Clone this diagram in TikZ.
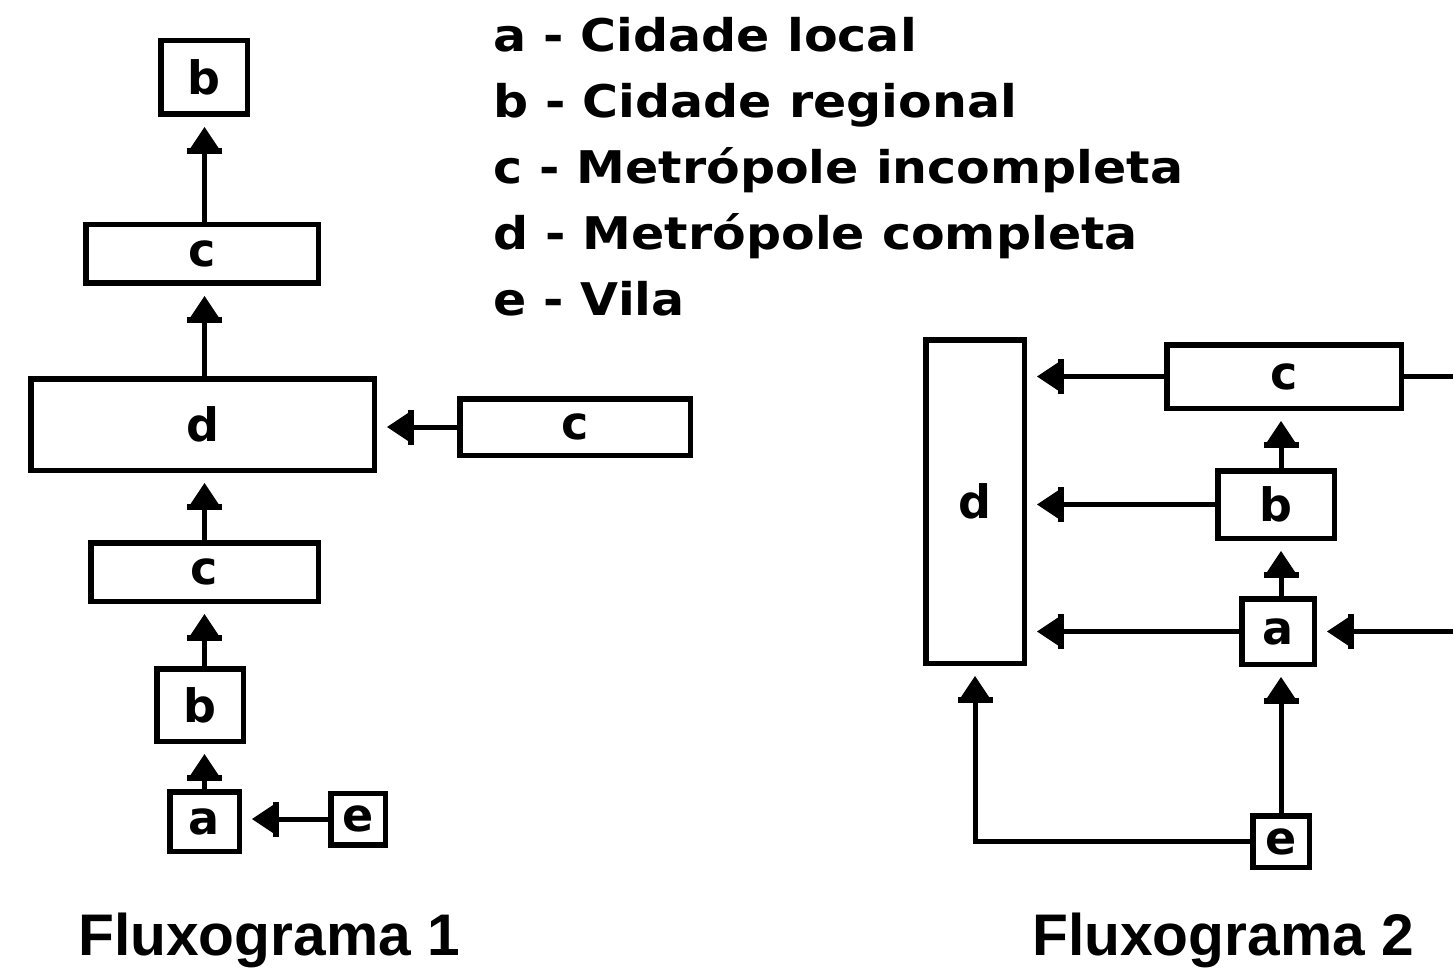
\documentclass[tikz,border=0pt]{standalone}
\usepackage{fontspec}
\setmainfont{DejaVu Sans}
\newfontfamily\titulo{Liberation Sans}
\usetikzlibrary{positioning,arrows.meta}

\tikzset{
  caixa/.style={draw, line width=5.5pt, fill=white, inner sep=0pt,
    font=\fontsize{46}{46}\selectfont\bfseries},
  linha/.style={line width=5pt},
  seta/.style={line width=5pt, shorten >=10pt,
    -{Bar[width=35pt,line width=6pt,sep=0pt]Triangle[length=21pt,width=28pt,line width=0pt,sep=0pt]}},
  legenda/.style={anchor=base west, inner sep=0pt, font=\fontsize{45}{45}\selectfont\bfseries},
  rotulo/.style={anchor=base west, inner sep=0pt, font=\fontsize{58.7}{58.7}\titulo\bfseries},
}

\begin{document}
\begin{tikzpicture}[x=1pt, y=-1pt]
  \useasboundingbox (0,0) rectangle (1453,968);

  % Legend
  \node[legenda] (la) at (493,52)  {\scalebox{1.09}[1]{a - Cidade local}};
  \node[legenda] (lb) at (493,118) {\scalebox{1.09}[1]{b - Cidade regional}};
  \node[legenda] (lc) at (493,184) {\scalebox{1.09}[1]{c - Metrópole incompleta}};
  \node[legenda] (ld) at (493,250) {\scalebox{1.09}[1]{d - Metrópole completa}};
  \node[legenda] (le) at (493,316) {\scalebox{1.09}[1]{e - Vila}};

  % Fluxograma 1
  \node[caixa, minimum width=86.5, minimum height=73.5] (b1) at (204,77.5) {b};
  \node[caixa, minimum width=232.5, minimum height=58.5] (c1) at (202,254) {c};
  \node[caixa, minimum width=343.5, minimum height=91.5] (d1) at (202.5,424.5) {d};
  \node[caixa, minimum width=230.5, minimum height=56.5] (c2) at (575,427) {c};
  \node[caixa, minimum width=227.5, minimum height=58.5] (c3) at (204.5,572) {c};
  \node[caixa, minimum width=86.5, minimum height=72.5] (b2) at (200,705) {b};
  \node[caixa, minimum width=69.5, minimum height=59.5] (a1) at (204.5,821.5) {a};
  \node[caixa, minimum width=54.5, minimum height=51.5] (e1) at (358,819) {e};

  \draw[seta] (a1.north) -- (a1.north |- b2.south);
  \draw[seta] (b2.north -| a1.north) -- (a1.north |- c3.south);
  \draw[seta] (c3.north -| a1.north) -- (a1.north |- d1.south);
  \draw[seta] (d1.north -| a1.north) -- (a1.north |- c1.south);
  \draw[seta] (c1.north -| a1.north) -- (a1.north |- b1.south);
  \draw[seta] (c2.west) -- (c2.west -| d1.east);
  \draw[seta] (e1.west) -- (e1.west -| a1.east);

  % Fluxograma 2
  \node[caixa, minimum width=98.5, minimum height=323.5] (d2) at (975,501.5) {d};
  \node[caixa, minimum width=234.5, minimum height=63.5] (c4) at (1284,376.5) {c};
  \node[caixa, minimum width=116.5, minimum height=67.5] (b3) at (1276,504.5) {b};
  \node[caixa, minimum width=72.5, minimum height=65.5] (a2) at (1278,631.5) {a};
  \node[caixa, minimum width=56.5, minimum height=51.5] (e2) at (1281,841.5) {e};
  \coordinate (saida) at (1453,376.5);
  \coordinate (entrada) at (1453,631.5);

  \draw[linha] (c4.east) -- (saida);
  \draw[seta] (entrada) -- (a2.east);
  \draw[seta] (c4.west) -- (c4.west -| d2.east);
  \draw[seta] (b3.west) -- (b3.west -| d2.east);
  \draw[seta] (a2.west) -- (a2.west -| d2.east);
  \draw[seta] (e2.north) -- (e2.north |- a2.south);
  \draw[seta] (a2.north -| e2.north) -- (e2.north |- b3.south);
  \draw[seta] (b3.north -| e2.north) -- (e2.north |- c4.south);
  \draw[seta] (e2.west) -| (d2.south);

  % Titles
  \node[rotulo] (f1) at (78,955) {Fluxograma 1};
  \node[rotulo] (f2) at (1032,955) {Fluxograma 2};
\end{tikzpicture}
\end{document}
